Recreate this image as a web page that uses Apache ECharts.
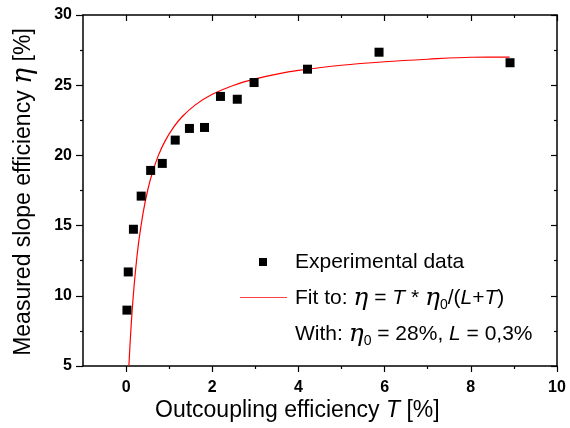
<!DOCTYPE html>
<html><head><meta charset="utf-8">
<script src="https://cdn.jsdelivr.net/npm/echarts@6/dist/echarts.min.js"></script>
<style>html,body{margin:0;padding:0;background:#fff}#c{width:570px;height:428px}</style>
</head><body><div id="c"></div>
<script>
var expT = [0.02, 0.05, 0.17, 0.35, 0.57, 0.84, 1.14, 1.47, 1.82, 2.19, 2.58, 2.97, 4.21, 5.87, 8.91];
var expEta = [8.98, 11.7, 14.74, 17.1, 18.93, 19.43, 21.09, 21.92, 21.99, 24.2, 24.0, 25.19, 26.14, 27.35, 26.6];
var fitT = [0.065, 0.08, 0.1, 0.13, 0.16, 0.2, 0.25, 0.3, 0.4, 0.5, 0.6, 0.75, 0.9, 1.1, 1.3, 1.6, 2.0, 2.5, 3.0, 3.5, 4.0, 5.0, 6.0, 7.0, 8.0, 8.9];
var fitEta = [5.0, 5.89, 7.0, 8.47, 9.74, 11.2, 12.73, 14.0, 16.0, 17.5, 18.67, 20.0, 21.0, 22.0, 22.75, 23.58, 24.35, 25.0, 25.45, 25.79, 26.05, 26.42, 26.67, 26.85, 26.99, 27.0];
var xMajor = [0, 2, 4, 6, 8, 10];
var xMinor = [1, 3, 5, 7, 9];

var chart = echarts.init(document.getElementById('c'), null, {renderer: 'canvas'});
var F = '"Liberation Sans", Arial, sans-serif';
var lineS = {color: '#000', width: 1.5};
function xa(pos, ticks, len, inside, labels, line) {
  return {
    type: 'value', position: pos, min: -1, max: 10, interval: 1,
    axisLine: {show: line, onZero: false, lineStyle: lineS},
    axisTick: {show: true, inside: inside, length: len, customValues: ticks, lineStyle: {color: '#000', width: 1.2}},
    axisLabel: labels ? {show: true, customValues: xMajor, margin: 14, fontFamily: F, fontWeight: 'bold', fontSize: 16, color: '#000'} : {show: false},
    splitLine: {show: false}
  };
}
function ya(pos, len, inside, labels) {
  return {
    type: 'value', position: pos, min: 5, max: 30, interval: 5,
    axisLine: {show: true, onZero: false, lineStyle: lineS},
    axisTick: {show: true, inside: inside, length: len, lineStyle: {color: '#000', width: 1.2}},
    minorTick: {show: true, splitNumber: 2, length: 3, lineStyle: {color: '#000', width: 1.2}},
    axisLabel: labels ? {show: true, margin: 11, fontFamily: F, fontWeight: 'bold', fontSize: 16, color: '#000'} : {show: false},
    splitLine: {show: false}, minorSplitLine: {show: false}
  };
}
var richEta = {
  e: {fontFamily: '"DejaVu Serif", serif', fontStyle: 'italic', fontSize: 25, color: '#000'},
  i: {fontFamily: F, fontStyle: 'italic', fontSize: 21, color: '#000'},
  s: {fontFamily: F, fontSize: 14, color: '#000', padding: [14, 0, 0, 0]},
  n: {fontFamily: F, fontSize: 21, color: '#000'}
};
chart.setOption({
  animation: false,
  grid: {left: 83, top: 15, right: 13, bottom: 62, containLabel: false},
  xAxis: [
    xa('bottom', xMajor, 6, false, true, true),
    xa('bottom', xMinor, 3, false, false, false),
    xa('top', xMajor, 6, true, false, true),
    xa('top', xMinor, 3, true, false, false)
  ],
  yAxis: [
    ya('left', 7, false, true),
    ya('right', 6, true, false)
  ],
  series: [
    {type: 'line', xAxisIndex: 0, yAxisIndex: 0, data: fitT.map(function (t, k) { return [t, fitEta[k]]; }),
     showSymbol: false, smooth: 0.3, lineStyle: {color: '#ff0000', width: 1.2}, z: 2},
    {type: 'scatter', xAxisIndex: 0, yAxisIndex: 0, data: expT.map(function (t, k) { return [t, expEta[k]]; }),
     symbol: 'rect', symbolSize: 9, itemStyle: {color: '#000', opacity: 1}, z: 3}
  ],
  graphic: [
    {type: 'text', x: 155, y: 411, style: {
      text: '{n|Outcoupling efficiency }{i|T}{n| [%]}', verticalAlign: 'middle',
      rich: {n: {fontFamily: F, fontSize: 23, color: '#000'}, i: {fontFamily: F, fontStyle: 'italic', fontSize: 23, color: '#000'}}}},
    {type: 'text', x: 24, y: 192, rotation: Math.PI / 2, style: {
      text: '{n|Measured slope efficiency }{e|η}{n| [%]}', align: 'center', verticalAlign: 'middle',
      rich: {n: {fontFamily: F, fontSize: 23, color: '#000'}, e: {fontFamily: '"DejaVu Serif", serif', fontStyle: 'italic', fontSize: 27, color: '#000'}}}},
    {type: 'rect', shape: {x: 259, y: 258, width: 8, height: 8}, style: {fill: '#000'}},
    {type: 'line', shape: {x1: 240, y1: 297.5, x2: 287, y2: 297.5}, style: {stroke: '#ff4040', lineWidth: 1}},
    {type: 'text', x: 295, y: 262, style: {text: 'Experimental data', verticalAlign: 'middle', fontFamily: F, fontSize: 21, fill: '#000'}},
    {type: 'text', x: 295, y: 298, style: {verticalAlign: 'middle',
      text: '{n|Fit to: }{e|η}{n| = }{i|T}{n| * }{e|η}{s|0}{n|/(}{i|L}{n|+}{i|T}{n|)}', rich: richEta}},
    {type: 'text', x: 295, y: 334, style: {verticalAlign: 'middle',
      text: '{n|With: }{e|η}{s|0}{n| = 28%, }{i|L}{n| = 0,3%}', rich: richEta}}
  ]
});
</script></body></html>
